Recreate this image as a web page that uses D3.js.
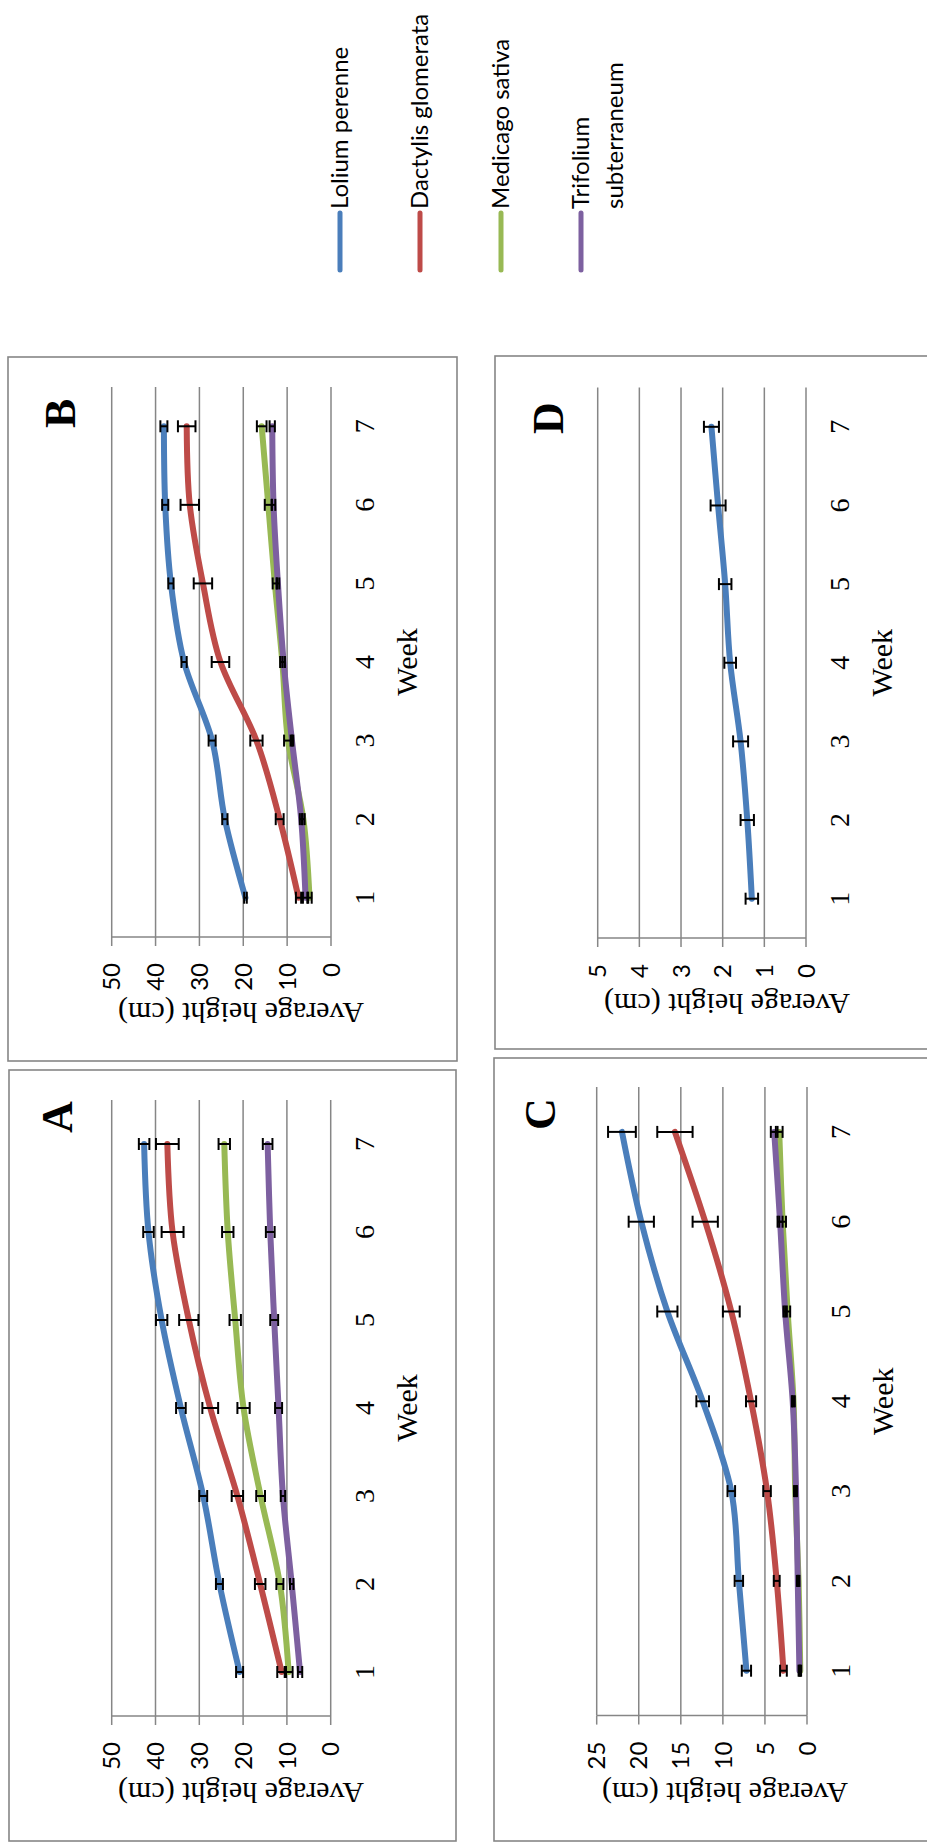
<!DOCTYPE html>
<html><head><meta charset="utf-8">
<script src="https://cdn.jsdelivr.net/npm/d3@7"></script>
<style>html,body{margin:0;padding:0;background:#fff}</style>
</head><body><svg id="c" width="927" height="1843"></svg>
<script>
const weeks=[1,2,3,4,5,6,7];
const speciesNames=["Lolium perenne","Dactylis glomerata","Medicago sativa","Trifolium subterraneum"];
const seriesColors=["#4A7EBB","#BE4B48","#98B954","#7D60A0"];
const yTicksAB=[0,10,20,30,40,50];
const yTicksC=[0,5,10,15,20,25];
const yTicksD=[0,1,2,3,4,5];
const xTitle="Week";
const yTitle="Average height (cm)";

// Panel A
const aLolium=[20.8,25.4,29.1,34.2,38.6,41.6,42.6];
const aLoliumErr=[0.8,0.8,0.9,1.1,1.3,1.2,1.2];
const aDactylis=[11.2,16.1,21.3,27.5,32.4,36.1,37.3];
const aDactylisErr=[1.0,1.2,1.3,1.8,2.2,2.5,2.6];
const aMedicago=[9.6,11.6,16.0,19.9,21.8,23.5,24.3];
const aMedicagoErr=[0.9,0.8,1.0,1.4,1.3,1.3,1.3];
const aTrifolium=[7.0,8.9,10.9,11.9,12.9,13.8,14.4];
const aTrifoliumErr=[0.5,0.4,0.5,0.8,0.9,1.0,1.1];
// Panel B
const bLolium=[19.5,24.2,27.1,33.5,36.5,37.8,38.1];
const bLoliumErr=[0.3,0.6,0.8,0.6,0.6,0.7,0.8];
const bDactylis=[7.4,11.7,17.0,25.2,29.2,32.2,32.9];
const bDactylisErr=[0.6,0.9,1.4,2.0,2.1,2.1,2.0];
const bMedicago=[4.9,6.3,9.8,11.1,12.8,14.3,15.8];
const bMedicagoErr=[0.5,0.3,0.9,0.5,0.5,0.8,1.1];
const bTrifolium=[5.8,6.8,8.9,10.8,12.1,13.1,13.4];
const bTrifoliumErr=[0.6,0.3,0.3,0.3,0.3,0.4,0.6];
// Panel C
const cLolium=[7.2,8.1,9.0,12.4,16.6,19.7,22.0];
const cLoliumErr=[0.55,0.5,0.45,0.75,1.2,1.5,1.65];
const cDactylis=[2.8,3.6,4.75,6.65,9.0,12.1,15.7];
const cDactylisErr=[0.4,0.35,0.45,0.6,1.0,1.5,2.1];
const cMedicago=[0.8,1.0,1.4,1.6,2.3,2.9,3.3];
const cMedicagoErr=[0.1,0.1,0.15,0.15,0.3,0.4,0.4];
const cTrifolium=[0.9,1.1,1.3,1.7,2.6,3.2,3.9];
const cTrifoliumErr=[0.1,0.1,0.1,0.1,0.2,0.3,0.4];
// Panel D
const dLolium=[1.30,1.41,1.57,1.82,1.94,2.11,2.27];
const dLoliumErr=[0.15,0.16,0.18,0.14,0.15,0.18,0.18];

const panels=[
 {letter:"A",box:[2,9,771,447],x:[127,743],y:[330.7,111.7],max:50,ticks:yTicksAB,
  letterPos:[710,72],titleX:60,titleY:241,
  series:[[aLolium,aLoliumErr],[aDactylis,aDactylisErr],[aMedicago,aMedicagoErr],[aTrifolium,aTrifoliumErr]]},
 {letter:"B",box:[782,8,704,449],x:[906,1456],y:[331,111.7],max:50,ticks:yTicksAB,
  letterPos:[1415,75],titleX:840,titleY:241,
  series:[[bLolium,bLoliumErr],[bDactylis,bDactylisErr],[bMedicago,bMedicagoErr],[bTrifolium,bTrifoliumErr]]},
 {letter:"C",box:[2,494,783,445],x:[127.4,756],y:[807,596.7],max:25,ticks:yTicksC,
  letterPos:[713,555],titleX:60,titleY:725,
  series:[[cLolium,cLoliumErr],[cDactylis,cDactylisErr],[cMedicago,cMedicagoErr],[cTrifolium,cTrifoliumErr]]},
 {letter:"D",box:[794,495,693,445],x:[905,1455.5],y:[806,597.7],max:5,ticks:yTicksD,
  letterPos:[1409,563],titleX:849,titleY:727,
  series:[[dLolium,dLoliumErr]]}
];

const svg=d3.select("#c");
svg.append("rect").attr("width",927).attr("height",1843).attr("fill","#fff");
// whole figure is rotated 90° counter-clockwise
const root=svg.append("g").attr("transform","translate(0,1843) rotate(-90)");
const gridCol="#868686";
const serif="'Liberation Serif','Times New Roman',serif";
const sans="Lato,'Open Sans',sans-serif";

panels.forEach(p=>{
  const g=root.append("g");
  g.append("rect").attr("x",p.box[0]).attr("y",p.box[1]).attr("width",p.box[2]).attr("height",p.box[3])
    .attr("fill","none").attr("stroke",gridCol).attr("stroke-width",1.6);
  const xs=d3.scalePoint().domain(weeks).range(p.x).padding(0.5);
  const ys=d3.scaleLinear().domain([0,p.max]).range(p.y);
  g.selectAll(".grid").data(p.ticks).join("line")
    .attr("x1",p.x[0]).attr("x2",p.x[1]).attr("y1",d=>ys(d)).attr("y2",d=>ys(d))
    .attr("stroke",gridCol).attr("stroke-width",1.5);
  g.append("line").attr("x1",p.x[0]).attr("x2",p.x[0]).attr("y1",ys(0)).attr("y2",ys(p.max))
    .attr("stroke",gridCol).attr("stroke-width",1.5);
  g.selectAll(".tk").data(p.ticks).join("line")
    .attr("x1",p.x[0]-9).attr("x2",p.x[0]).attr("y1",d=>ys(d)).attr("y2",d=>ys(d))
    .attr("stroke",gridCol).attr("stroke-width",1.5);
  g.selectAll(".tl").data(p.ticks).join("text")
    .attr("x",p.x[0]-26).attr("y",d=>ys(d)).attr("dy","0.36em")
    .attr("text-anchor","end").attr("font-family",sans).attr("font-size",24).attr("fill","#000")
    .text(d=>d);
  g.selectAll(".wl").data(weeks).join("text")
    .attr("x",d=>xs(d)).attr("y",ys(0)+43).attr("text-anchor","middle")
    .attr("font-family",serif).attr("font-size",28).attr("fill","#000").text(d=>d);
  g.append("text").attr("x",(p.x[0]+p.x[1])/2).attr("y",ys(0)+86).attr("text-anchor","middle")
    .attr("font-family",serif).attr("font-size",30).attr("fill","#000").text(xTitle);
  g.append("text").attr("transform",`translate(${p.titleX},${p.titleY}) rotate(-90)`)
    .attr("text-anchor","middle").attr("font-family",serif).attr("font-size",30).attr("fill","#000").text(yTitle);
  g.append("text").attr("x",p.letterPos[0]).attr("y",p.letterPos[1])
    .attr("font-family",serif).attr("font-size",44).attr("font-weight","bold").attr("fill","#000").text(p.letter);
  const line=d3.line().x((d,i)=>xs(weeks[i])).y(d=>ys(d)).curve(d3.curveCatmullRom.alpha(0));
  p.series.forEach((s,si)=>{
    g.append("path").attr("d",line(s[0])).attr("fill","none").attr("stroke",seriesColors[si])
      .attr("stroke-width",6).attr("stroke-linecap","round").attr("stroke-linejoin","round");
  });
  p.series.forEach((s,si)=>{
    const eb=g.append("g").attr("stroke","#000").attr("stroke-width",2);
    s[0].forEach((v,i)=>{
      const x=xs(weeks[i]), e=s[1][i];
      eb.append("line").attr("x1",x).attr("x2",x).attr("y1",ys(v-e)).attr("y2",ys(v+e));
      eb.append("line").attr("x1",x-6).attr("x2",x+6).attr("y1",ys(v-e)).attr("y2",ys(v-e));
      eb.append("line").attr("x1",x-6).attr("x2",x+6).attr("y1",ys(v+e)).attr("y2",ys(v+e));
    });
  });
});

// legend
const legY=[340,420,501,581];
const lg=root.append("g");
speciesNames.forEach((name,i)=>{
  lg.append("line").attr("x1",1573).attr("x2",1630).attr("y1",legY[i]).attr("y2",legY[i])
    .attr("stroke",seriesColors[i]).attr("stroke-width",5).attr("stroke-linecap","round");
  const parts=i===3?["Trifolium","subterraneum"]:[name];
  parts.forEach((t,j)=>{
    lg.append("text").attr("x",1634).attr("y",legY[i]+j*34).attr("dy","0.32em")
      .attr("font-family",sans).attr("font-size",24).attr("fill","#000").text(t);
  });
});
</script></body></html>
